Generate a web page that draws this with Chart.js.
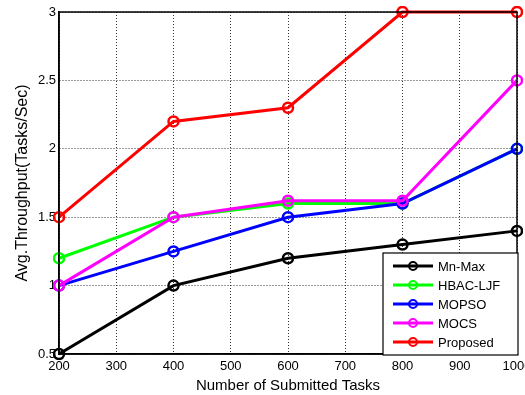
<!DOCTYPE html>
<html>
<head>
<meta charset="utf-8">
<script src="https://cdn.jsdelivr.net/npm/chart.js@4"></script>
<style>
  html, body { margin: 0; padding: 0; background: #fff; }
  #wrap { width: 525px; height: 395px; }
</style>
</head>
<body>
<div id="wrap"><canvas id="chart" width="525" height="395"></canvas></div>
<script>
const tasks = [200, 400, 600, 800, 1000];
const mnMax = [0.5, 1.0, 1.2, 1.3, 1.4];
const hbacLjf = [1.2, 1.5, 1.6, 1.6, 2.0];
const mopso = [1.0, 1.25, 1.5, 1.6, 2.0];
const mocs = [1.0, 1.5, 1.62, 1.62, 2.5];
const proposed = [1.5, 2.2, 2.3, 3.0, 3.0];
const seriesNames = ['Mn-Max', 'HBAC-LJF', 'MOPSO', 'MOCS', 'Proposed'];
const seriesColors = ['#000000', '#00ff00', '#0000ff', '#ff00ff', '#ff0000'];
const yTicks = [0.5, 1, 1.5, 2, 2.5, 3];

const font = "'Liberation Sans', Arial, sans-serif";

function makeSet(name, vals, color, idx) {
    return {
        label: name,
        data: tasks.map((t, i) => ({ x: t, y: vals[i] })),
        borderColor: color,
        backgroundColor: color,
        pointBackgroundColor: 'rgba(0,0,0,0)',
        pointBorderColor: color,
        pointBorderWidth: 2.5,
        pointRadius: 5,
        borderWidth: 3,
        tension: 0,
        clip: 6,
        order: 4 - idx   // later series drawn on top, like the original
    };
}

const allVals = [mnMax, hbacLjf, mopso, mocs, proposed];
const datasets = allVals.map((v, i) => makeSet(seriesNames[i], v, seriesColors[i], i));

// frame around plot + boxed legend in the lower right corner
const framePlugin = {
    id: 'frameAndLegend',
    afterDatasetsDraw(chart) {
        const ctx = chart.ctx;
        const a = chart.chartArea;
        ctx.save();
        ctx.strokeStyle = '#000';
        ctx.lineWidth = 1.5;
        ctx.strokeRect(a.left, a.top, a.right - a.left, a.bottom - a.top);

        const bx = 383, by = 253, bw = 135, bh = 102;
        ctx.fillStyle = '#fff';
        ctx.fillRect(bx, by, bw, bh);
        ctx.lineWidth = 1.2;
        ctx.strokeRect(bx, by, bw, bh);

        ctx.font = '13px ' + font;
        ctx.textBaseline = 'middle';
        chart.data.datasets.forEach((ds, i) => {
            const y = by + 13 + i * 19;
            ctx.strokeStyle = ds.borderColor;
            ctx.lineWidth = 3;
            ctx.beginPath();
            ctx.moveTo(bx + 10, y);
            ctx.lineTo(bx + 50, y);
            ctx.stroke();
            ctx.lineWidth = 2;
            ctx.beginPath();
            ctx.arc(bx + 30, y, 4, 0, Math.PI * 2);
            ctx.stroke();
            ctx.fillStyle = '#000';
            ctx.fillText(ds.label, bx + 55, y + 1);
        });
        ctx.restore();
    }
};

new Chart(document.getElementById('chart').getContext('2d'), {
    type: 'line',
    data: { datasets: datasets },
    options: {
        responsive: false,
        animation: false,
        layout: { padding: { top: 12, right: 8, left: 13, bottom: 0 } },
        plugins: {
            legend: { display: false },
            tooltip: { enabled: false }
        },
        scales: {
            x: {
                type: 'linear',
                min: 200,
                max: 1000,
                ticks: {
                    stepSize: 100,
                    color: '#000',
                    font: { family: font, size: 13 },
                    padding: 5,
                    maxRotation: 0,
                    callback: v => String(v)
                },
                grid: {
                    color: '#000',
                    lineWidth: 0.8,
                    drawTicks: false
                },
                border: { display: true, color: '#000', width: 1.5, dash: [1, 2] },
                title: {
                    display: true,
                    text: 'Number of Submitted Tasks',
                    color: '#000',
                    font: { family: font, size: 15 },
                    padding: { top: 2, bottom: 0 }
                },
                afterFit(scale) {
                    scale.height = 41;
                    scale.paddingLeft = 0;
                    scale.paddingRight = 0;
                }
            },
            y: {
                min: 0.5,
                max: 3,
                afterBuildTicks(scale) {
                    scale.ticks = yTicks.map(v => ({ value: v }));
                },
                ticks: {
                    color: '#000',
                    font: { family: font, size: 13 },
                    padding: 3,
                    callback: v => String(v)
                },
                grid: {
                    color: '#000',
                    lineWidth: 0.8,
                    drawTicks: false
                },
                border: { display: true, color: '#000', width: 1.5, dash: [1, 2] },
                title: {
                    display: true,
                    text: 'Avg.Throughput(Tasks/Sec)',
                    color: '#000',
                    font: { family: font, size: 16 },
                    padding: { top: 0, bottom: 4 }
                },
                afterFit(scale) {
                    scale.width = 46;
                    scale.paddingTop = 0;
                    scale.paddingBottom = 0;
                }
            }
        }
    },
    plugins: [framePlugin]
});
</script>
</body>
</html>
